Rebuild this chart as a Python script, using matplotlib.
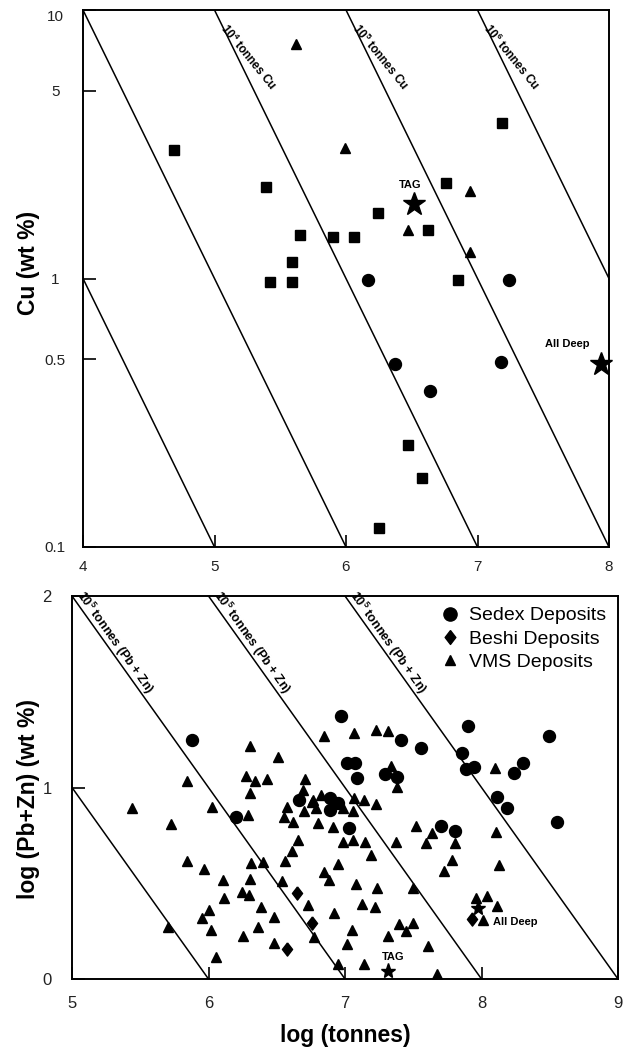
import numpy as np
import matplotlib
matplotlib.use("Agg")
import matplotlib.pyplot as plt
from matplotlib.lines import Line2D
from matplotlib.transforms import offset_copy

plt.rcParams['font.family'] = ['Liberation Sans', 'DejaVu Sans']
plt.rcParams['mathtext.default'] = 'regular'

# ---------------- panel 1 : Cu grade vs tonnage ----------------
cu_sq_x = [4.69, 5.39, 5.65, 5.59, 5.42, 5.59, 5.90, 6.06, 6.24, 6.62, 6.76, 7.19, 6.85, 6.47, 6.58, 6.25]
cu_sq_y = [3.0, 2.19, 1.45, 1.15, 0.97, 0.97, 1.43, 1.43, 1.76, 1.51, 2.26, 3.79, 0.99, 0.24, 0.18, 0.118]
cu_ci_x = [6.17, 7.24, 6.37, 7.18, 6.64]
cu_ci_y = [0.99, 0.99, 0.48, 0.49, 0.38]
cu_tr_x = [5.62, 5.99, 6.94, 6.47, 6.94]
cu_tr_y = [7.47, 3.05, 2.11, 1.51, 1.26]
cu_tag = (6.52, 1.89)
cu_alldeep = (7.94, 0.48)
cu_lines = [2, 3, 4, 5, 6]          # log10 tonnes Cu
cu_labelled = {4: '10$^4$ tonnes Cu', 5: '10$^5$ tonnes Cu', 6: '10$^6$ tonnes Cu'}

# ---------------- panel 2 : Pb+Zn grade vs tonnage ----------------
sedex_x = [5.879, 6.201, 6.663, 6.890, 6.949, 6.890, 6.971, 7.015, 7.073, 7.088, 7.029, 7.293, 7.381,
           7.410, 7.557, 7.703, 7.806, 7.901, 7.857, 7.886, 7.945, 8.114, 8.187, 8.238, 8.304, 8.495, 8.553]
sedex_y = [1.248, 0.846, 0.935, 0.945, 0.919, 0.883, 1.373, 1.128, 1.128, 1.050, 0.789, 1.070, 1.055,
           1.248, 1.206, 0.799, 0.773, 1.321, 1.180, 1.097, 1.107, 0.950, 0.893, 1.076, 1.128, 1.269, 0.820]
beshi_x = [6.648, 6.758, 6.575, 7.930]
beshi_y = [0.449, 0.292, 0.157, 0.313]
vms_x = [5.440, 5.725, 5.842, 5.842, 5.967, 6.026, 6.106, 5.703, 5.952, 6.004, 6.018, 6.055,
         6.275, 6.304, 6.341, 6.429, 6.509, 6.304, 6.289, 6.311, 6.399, 6.304, 6.245, 6.297,
         6.114, 6.385, 6.480, 6.363, 6.253, 6.480, 6.707, 6.692, 6.758, 6.575, 6.700, 6.788,
         6.553, 6.619, 6.802, 6.656, 6.612, 6.560, 6.538, 6.729, 6.773, 6.846, 7.066, 7.227,
         7.315, 7.337, 7.381, 6.824, 6.766, 6.985, 7.059, 7.066, 7.139, 7.227, 6.912, 7.520,
         7.637, 7.593, 7.806, 8.106, 7.374, 7.784, 7.725, 8.128, 6.985, 7.059, 7.147, 7.190,
         6.949, 6.846, 6.883, 7.081, 7.234, 7.498, 7.125, 7.220, 6.919, 7.960, 8.040, 8.114,
         8.011, 7.396, 7.498, 7.447, 7.051, 7.315, 7.608, 7.015, 6.949, 7.139, 7.674, 8.100]
vms_y = [0.893, 0.809, 1.034, 0.616, 0.574, 0.898, 0.517, 0.272, 0.319, 0.360, 0.256, 0.115,
         1.060, 1.217, 1.034, 1.044, 1.159, 0.971, 0.856, 0.606, 0.611, 0.522, 0.454, 0.439,
         0.423, 0.376, 0.324, 0.272, 0.225, 0.188, 1.044, 0.987, 0.924, 0.898, 0.877, 0.893,
         0.846, 0.820, 0.815, 0.726, 0.668, 0.616, 0.512, 0.386, 0.219, 1.269, 1.285, 1.300,
         1.295, 1.112, 1.003, 0.961, 0.935, 0.893, 0.877, 0.945, 0.935, 0.914, 0.794, 0.799,
         0.762, 0.710, 0.710, 0.768, 0.715, 0.621, 0.564, 0.595, 0.715, 0.726, 0.715, 0.648,
         0.601, 0.559, 0.517, 0.496, 0.475, 0.475, 0.392, 0.376, 0.345, 0.423, 0.433, 0.381,
         0.308, 0.287, 0.292, 0.251, 0.256, 0.225, 0.172, 0.183, 0.078, 0.078, 0.026, 1.100]
pz_tag = (7.315, 0.042)
pz_alldeep = (7.974, 0.371)
pz_lines = [4, 5, 6, 7]             # log10 tonnes Pb+Zn
pz_labelled = {5: '10$^5$ tonnes (Pb + Zn)', 6: '10$^5$ tonnes (Pb + Zn)', 7: '10$^5$ tonnes (Pb + Zn)'}

fig = plt.figure(figsize=(6.28, 10.51), dpi=100)
ax1 = fig.add_axes([83/628, 1-547/1051, 526/628, 537/1051])
ax2 = fig.add_axes([72/628, 1-979/1051, 546/628, 383/1051])

def style(ax, size):
    for s in ax.spines.values():
        s.set_linewidth(1.4)
    ax.tick_params(direction='in', length=9, width=1.2, labelsize=size,
                   labelcolor='#222', top=False, right=False)

def line_angle(ax):
    p = ax.transData.transform([(6.0, 1.0), (6.5, 0.5)])
    return np.degrees(np.arctan2(p[1, 1]-p[0, 1], p[1, 0]-p[0, 0]))

# ---- panel 1 ----
ax1.set_yscale('log')
ax1.set_xlim(4, 8)
ax1.set_ylim(0.1, 10)
xx = np.linspace(3, 9, 50)
for t in cu_lines:
    ax1.plot(xx, 10 ** (t + 2 - xx), color='k', lw=1.1)
ax1.plot(cu_sq_x, cu_sq_y, 's', color='k', ms=7.2, ls='none')
ax1.plot(cu_ci_x, cu_ci_y, 'o', color='k', ms=8.6, ls='none')
ax1.plot(cu_tr_x, cu_tr_y, '^', color='k', ms=6.5, ls='none')
ax1.plot(*cu_tag, '*', color='k', ms=17, ls='none')
ax1.plot(*cu_alldeep, '*', color='k', ms=17, ls='none', clip_on=False)
ax1.annotate('TAG', cu_tag, xytext=(-4, 19), textcoords='offset pixels',
             ha='center', va='center', fontsize=8, fontweight='bold')
ax1.annotate('All Deep', cu_alldeep, xytext=(-34, 20), textcoords='offset pixels',
             ha='center', va='center', fontsize=8, fontweight='bold')
ax1.set_xticks([4, 5, 6, 7, 8])
ax1.set_yticks([0.1, 0.5, 1, 5, 10])
ax1.set_yticklabels(['0.1', '0.5', '1', '5', '10'])
ax1.minorticks_off()
style(ax1, 11)
ax1.tick_params(axis='y', pad=20)
ax1.tick_params(axis='x', pad=9.5)
for lab in ax1.get_yticklabels():
    lab.set_ha('center')
ax1.get_yticklabels()[-1].set_va('top')
ax1.set_ylabel('Cu (wt %)', fontsize=16.5, fontweight='bold')
ax1.yaxis.set_label_coords(-0.082, 0.529)

ang1 = line_angle(ax1)
n1 = np.radians(ang1 + 90)
for t, txt in cu_labelled.items():
    ly = 10 ** 0.8
    lx = t + 2 - np.log10(ly)
    tr = offset_copy(ax1.transData, fig, x=10*np.cos(n1), y=10*np.sin(n1), units='dots')
    ax1.text(lx, ly, txt, transform=tr, rotation=ang1, rotation_mode='anchor',
             ha='center', va='center', fontsize=8.5, fontweight='bold')

# ---- panel 2 ----
ax2.set_xlim(5, 9)
ax2.set_ylim(0, 2)
for t in pz_lines:
    ax2.plot(xx, t + 2 - xx, color='k', lw=1.1)
diamond = [(0, 1), (0.77, 0), (0, -1), (-0.77, 0), (0, 1)]
ax2.plot(vms_x, vms_y, '^', color='k', ms=7.6, ls='none')
ax2.plot(beshi_x, beshi_y, marker=diamond, color='k', ms=9.5, ls='none')
ax2.plot(sedex_x, sedex_y, 'o', color='k', ms=8.6, ls='none')
ax2.plot(*pz_tag, '*', color='k', ms=11, ls='none')
ax2.plot(*pz_alldeep, '*', color='k', ms=11, ls='none')
ax2.annotate('TAG', pz_tag, xytext=(5, 14), textcoords='offset pixels',
             ha='center', va='center', fontsize=8, fontweight='bold')
ax2.annotate('All Deep', pz_alldeep, xytext=(15, -14), textcoords='offset pixels',
             ha='left', va='center', fontsize=8, fontweight='bold')
ax2.set_xticks([5, 6, 7, 8, 9])
ax2.set_yticks([0, 1, 2])
style(ax2, 12)
ax2.tick_params(axis='y', pad=18)
ax2.tick_params(axis='x', pad=12.5)
for lab in ax2.get_yticklabels():
    lab.set_ha('center')
ax2.set_ylabel('log (Pb+Zn) (wt %)', fontsize=16.5, fontweight='bold')
ax2.yaxis.set_label_coords(-0.059, 0.47)
ax2.set_xlabel('log (tonnes)', fontsize=16.5, fontweight='bold')
ax2.xaxis.set_label_coords(0.501, -0.1175)

ang2 = line_angle(ax2)
n2 = np.radians(ang2 + 90)
for t, txt in pz_labelled.items():
    ly = 1.73
    lx = t + 2 - ly
    tr = offset_copy(ax2.transData, fig, x=8*np.cos(n2), y=8*np.sin(n2), units='dots')
    ax2.text(lx, ly, txt, transform=tr, rotation=ang2, rotation_mode='anchor',
             ha='center', va='center', fontsize=9, fontweight='bold')

handles = [Line2D([], [], marker='o', color='k', ls='none', ms=9.5),
           Line2D([], [], marker=diamond, color='k', ls='none', ms=10),
           Line2D([], [], marker='^', color='k', ls='none', ms=6.5)]
ax2.legend(handles, ['Sedex Deposits', 'Beshi Deposits', 'VMS Deposits'],
           loc='upper right', bbox_to_anchor=(0.978, 0.972), frameon=False,
           fontsize=14, handlelength=0.8, handletextpad=0.58, labelspacing=0.3,
           borderpad=0, borderaxespad=0)

fig.savefig('out.png', dpi=100)
